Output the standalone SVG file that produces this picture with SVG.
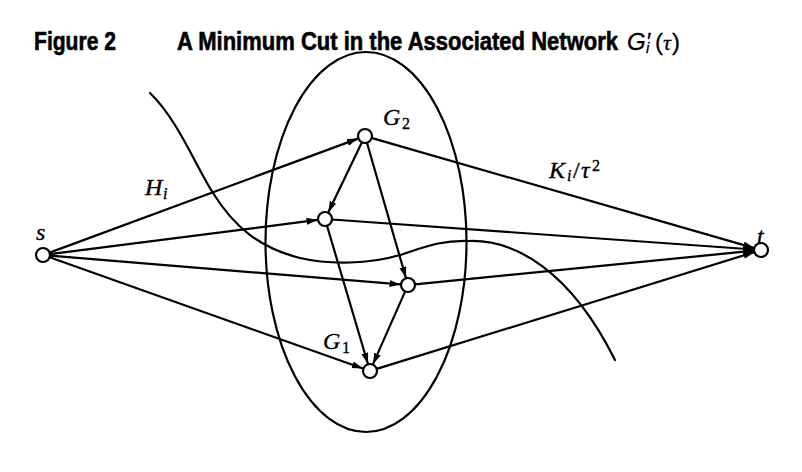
<svg xmlns="http://www.w3.org/2000/svg" width="802" height="472" viewBox="0 0 802 472">
<style>
.ln{stroke:#000;stroke-width:2.2;fill:none;stroke-linecap:round}
.nd{fill:#fff;stroke:#000;stroke-width:2.2}
.m{font-family:"Liberation Serif","Times New Roman",serif;fill:#000;stroke:#000;stroke-width:0.35}
.it{font-style:italic}
.sub{font-size:16px}
.ttl{font-family:"Liberation Sans",Arial,sans-serif;font-weight:bold;fill:#000;stroke:#000;stroke-width:0.6}
.tm{font-family:"Liberation Sans",Arial,sans-serif;fill:#000;stroke:#000;stroke-width:0.3}
</style>
<defs>
<marker id="arr" markerUnits="userSpaceOnUse" markerWidth="12" markerHeight="8" refX="11" refY="3.5" orient="auto">
<path d="M0,0 L11,3.5 L0,7 Z" fill="#000"/>
</marker>
</defs>
<rect width="802" height="472" fill="#fff"/>
<g id="title">
<text class="ttl" x="34" y="49.5" font-size="25" textLength="82" lengthAdjust="spacingAndGlyphs">Figure 2</text>
<text class="ttl" x="177" y="49.5" font-size="25" textLength="441" lengthAdjust="spacingAndGlyphs">A Minimum Cut in the Associated Network</text>
<text class="tm" x="627" y="49.5" font-size="24" font-style="italic">G′<tspan x="646" y="52.5" font-size="15">i</tspan><tspan x="655" y="49.5" font-style="normal">(</tspan><tspan x="663" y="49.5" font-family="Liberation Serif,serif" font-size="22">τ</tspan><tspan x="672" y="49.5" font-style="normal">)</tspan></text>
</g>
<g id="cluster">
<ellipse cx="366" cy="242" rx="100.5" ry="190" class="ln"/>
</g>
<g id="cut">
<path class="ln" d="M150,93 C178,120 195,165 213,193 C235,228 260,248 300,258 C330,265 370,264 400,255 C425,247 440,240 470,241 C515,240 570,270 615,360"/>
</g>
<g id="connectors">
<line class="ln" x1="49.6" y1="252.6" x2="358" y2="138.6" marker-end="url(#arr)"/>
<line class="ln" x1="49.9" y1="254.1" x2="317.6" y2="219.9" marker-end="url(#arr)"/>
<line class="ln" x1="50" y1="255.6" x2="400.5" y2="284.4" marker-end="url(#arr)"/>
<line class="ln" x1="49.6" y1="257.3" x2="362.9" y2="368.5" marker-end="url(#arr)"/>
<line class="ln" x1="361.7" y1="142.8" x2="328.3" y2="212.2" marker-end="url(#arr)"/>
<line class="ln" x1="367.1" y1="143.2" x2="405.9" y2="277.8" marker-end="url(#arr)"/>
<line class="ln" x1="327" y1="225.7" x2="367.9" y2="363.8" marker-end="url(#arr)"/>
<line class="ln" x1="405.2" y1="291.4" x2="373" y2="364.1" marker-end="url(#arr)"/>
<line class="ln" x1="372.2" y1="138.1" x2="754.3" y2="248.1" marker-end="url(#arr)"/>
<line class="ln" x1="332" y1="219.5" x2="754" y2="249.5" marker-end="url(#arr)"/>
<line class="ln" x1="415" y1="284.3" x2="754" y2="250.7" marker-end="url(#arr)"/>
<line class="ln" x1="376.7" y1="368.9" x2="754.3" y2="252.1" marker-end="url(#arr)"/>
</g>
<g id="node-s"><circle class="nd" cx="43" cy="255" r="7"/><text class="m it" x="36" y="240" font-size="24">s</text></g>
<g id="node-t"><circle class="nd" cx="761" cy="250" r="7"/><text class="m it" x="757" y="244" font-size="24">t</text></g>
<g id="node-g2"><circle class="nd" cx="365" cy="136" r="7"/><text class="m it" x="383" y="125" font-size="24">G</text><text class="m sub" x="402" y="129">2</text></g>
<g id="node-left"><circle class="nd" cx="325" cy="219" r="7"/></g>
<g id="node-right"><circle class="nd" cx="408" cy="285" r="7"/></g>
<g id="node-g1"><circle class="nd" cx="370" cy="371" r="7"/><text class="m it" x="323" y="349" font-size="24">G</text><text class="m sub" x="342" y="353">1</text></g>
<g id="labels">
<text class="m it" x="145" y="195" font-size="24">H</text>
<text class="m it sub" x="163" y="199">i</text>
<text class="m it" x="549" y="178" font-size="24">K</text>
<text class="m it sub" x="567" y="181">i</text>
<text class="m" x="573" y="178" font-size="24">/</text>
<text class="m it" x="581" y="178" font-size="24">τ</text>
<text class="m" x="592" y="171" font-size="16">2</text>
</g>
</svg>
